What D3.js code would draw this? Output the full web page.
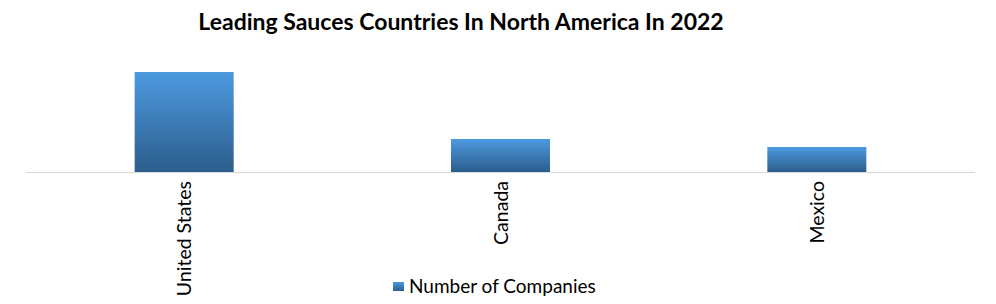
<!DOCTYPE html>
<html><head><meta charset="utf-8">
<script src="https://cdn.jsdelivr.net/npm/d3@7/dist/d3.min.js"></script>
<style>body{margin:0;background:#fff}</style>
</head><body>
<script>
const categories = ["United States", "Canada", "Mexico"];
const values = [100, 33, 25];
const seriesName = "Number of Companies";
const title = "Leading Sauces Countries In North America In 2022";

const W = 996, H = 304;
const svg = d3.select("body").append("svg").attr("width", W).attr("height", H);
const defs = svg.append("defs");
const grad = defs.append("linearGradient").attr("id", "g").attr("x1", 0).attr("y1", 0).attr("x2", 0).attr("y2", 1);
grad.append("stop").attr("offset", "0%").attr("stop-color", "#4d9ae0");
grad.append("stop").attr("offset", "100%").attr("stop-color", "#2c5d8c");
const lg = defs.append("linearGradient").attr("id", "lg").attr("x1", 0).attr("y1", 0).attr("x2", 0).attr("y2", 1);
lg.append("stop").attr("offset", "0%").attr("stop-color", "#4d9ae0");
lg.append("stop").attr("offset", "100%").attr("stop-color", "#2c5d8c");

const x = d3.scaleBand().domain(categories).range([26, 975]).padding(0);
const y = d3.scaleLinear().domain([0, 100]).range([172, 72]);
const bw = x.bandwidth() * 0.313;

svg.append("text").attr("x", 461).attr("y", 30).attr("text-anchor", "middle")
  .attr("font-family", "Lato, 'Open Sans', sans-serif").attr("font-weight", "bold")
  .attr("font-size", 23).attr("fill", "#000").text(title);

svg.selectAll("rect.bar").data(categories).join("rect").attr("class", "bar")
  .attr("x", d => x(d) + x.bandwidth() / 2 - bw / 2)
  .attr("y", (d, i) => y(values[i]))
  .attr("width", bw)
  .attr("height", (d, i) => y(0) - y(values[i]))
  .attr("fill", "url(#g)");

svg.append("line").attr("x1", 26).attr("x2", 975).attr("y1", 172.5).attr("y2", 172.5)
  .attr("stroke", "#d9d9d9").attr("stroke-width", 1);

svg.selectAll("text.cat").data(categories).join("text").attr("class", "cat")
  .attr("transform", d => `translate(${x(d) + x.bandwidth() / 2 + 7},181) rotate(-90)`)
  .attr("text-anchor", "end")
  .attr("font-family", "Lato, 'Open Sans', sans-serif").attr("font-size", 19.5)
  .attr("fill", "#000").text(d => d);

svg.append("rect").attr("x", 393).attr("y", 282).attr("width", 11).attr("height", 9).attr("fill", "url(#lg)");
svg.append("text").attr("x", 409).attr("y", 293)
  .attr("font-family", "Lato, 'Open Sans', sans-serif").attr("font-size", 19)
  .attr("fill", "#000").text(seriesName);
</script>
</body></html>
